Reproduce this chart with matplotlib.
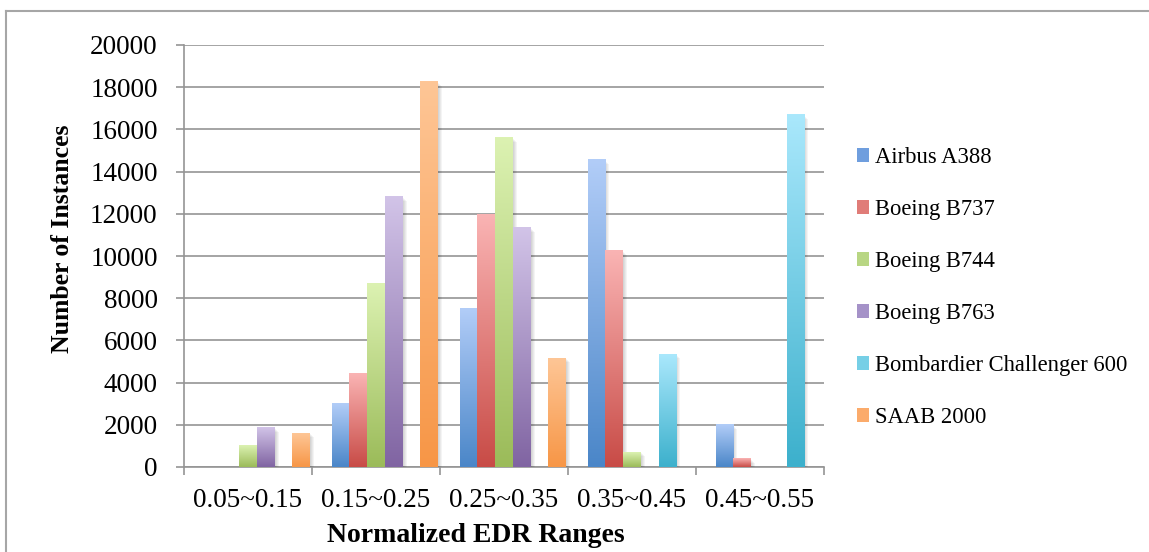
import numpy as np
import matplotlib
matplotlib.use("Agg")
import matplotlib.pyplot as plt
from matplotlib.colors import LinearSegmentedColormap
from matplotlib.patches import Patch, Rectangle
from matplotlib.lines import Line2D

# datos
edr_ranges = ["0.05~0.15", "0.15~0.25", "0.25~0.35", "0.35~0.45", "0.45~0.55"]
aircraft = ["Airbus A388", "Boeing B737", "Boeing B744", "Boeing B763",
            "Bombardier Challenger 600", "SAAB 2000"]
airbus_a388 = [0, 3000, 7500, 14550, 2000]
boeing_b737 = [0, 4450, 11950, 10250, 400]
boeing_b744 = [1000, 8700, 15600, 700, 0]
boeing_b763 = [1850, 12800, 11350, 0, 0]
bombardier_cl600 = [0, 0, 0, 5350, 16700]
saab_2000 = [1600, 18250, 5150, 0, 0]
y_ticks = list(range(0, 20001, 2000))

series = [airbus_a388, boeing_b737, boeing_b744, boeing_b763, bombardier_cl600, saab_2000]
# (color arriba, color abajo) de cada degradado
colors = [("#b2cdf8", "#4a86c8"), ("#fab4b4", "#c84b46"), ("#dcf2b2", "#9bbb59"),
          ("#d2c4e8", "#8064a2"), ("#aae8fc", "#3cb0cc"), ("#fec696", "#f79646")]
legend_colors = ["#6f9ede", "#e07c78", "#b8d683", "#a592c8", "#76cfe6", "#fbab6b"]

plt.rcParams['font.family'] = ['Liberation Serif', 'DejaVu Serif']

W, H = 1149, 552
fig = plt.figure(figsize=(W / 100, H / 100), dpi=100)
ax = fig.add_axes([184 / W, 1 - 467 / H, 640 / W, 422 / H])
ax.set_xlim(-0.5, 4.5)
ax.set_ylim(0, 20000)

px_x = 5 / 640
px_y = 20000 / 422
bar_w = 0.1385
x = np.arange(len(edr_ranges))
grad = np.linspace(0, 1, 256).reshape(-1, 1)

for i, (vals, (top, bottom)) in enumerate(zip(series, colors)):
    cmap = LinearSegmentedColormap.from_list(f"g{i}", [bottom, top])
    for xi, v in zip(x, vals):
        if v <= 0:
            continue
        x0 = xi + (i - 2.5) * bar_w
        x1 = x0 + bar_w
        # sombra suave a la derecha
        for k in range(1, 5):
            ax.add_patch(Rectangle((x0 + k * px_x, 0), bar_w, max(v - k * px_y, 0),
                                   color="black", alpha=0.045, lw=0, zorder=2))
        ax.imshow(grad, extent=[x0, x1, 0, v], origin="lower", cmap=cmap,
                  aspect="auto", interpolation="bilinear", zorder=3)

ax.set_xlim(-0.5, 4.5)
ax.set_ylim(0, 20000)

for s in ["top", "right"]:
    ax.spines[s].set_visible(False)
for s in ["left", "bottom"]:
    ax.spines[s].set_color("#959595")
    ax.spines[s].set_linewidth(1.2)
    ax.spines[s].set_zorder(1)

ax.set_yticks(y_ticks)
ax.yaxis.grid(True, color="#959595", linewidth=1.2, zorder=1)
ax.set_axisbelow(True)
ax.tick_params(axis="y", length=6, width=1.2, color="#959595", pad=13, labelsize=19.5)

ax.set_xticks(x)
ax.set_xticklabels(edr_ranges)
ax.set_xticks(np.arange(-0.5, 5, 1), minor=True)
ax.tick_params(axis="x", which="major", length=0, pad=15, labelsize=19.5)
ax.tick_params(axis="x", which="minor", length=5.5, width=1.2, color="#959595")

ax.set_xlabel("Normalized EDR Ranges", fontsize=20, fontweight="bold", va="center")
ax.xaxis.set_label_coords((476 - 184) / 640, (467 - 535) / 422)
ax.set_ylabel("Number of Instances", fontsize=18.5, fontweight="bold", va="center")
ax.yaxis.set_label_coords((62 - 184) / 640, (467 - 239) / 422)

handles = [Patch(facecolor=c, edgecolor="none") for c in legend_colors]
fig.legend(handles, aircraft, loc="upper left", bbox_to_anchor=(857 / W, 1 - 147 / H),
           frameon=False, fontsize=16.3, handlelength=0.55, handleheight=0.55,
           handletextpad=0.25, labelspacing=1.37, borderpad=0, borderaxespad=0)

# marco exterior
fig.add_artist(Line2D([6 / W, 6 / W], [0, 1 - 11 / H], color="#a6a6a6", lw=1.5))
fig.add_artist(Line2D([6 / W, 1], [1 - 11 / H, 1 - 11 / H], color="#a6a6a6", lw=1.5))

fig.savefig("out.png", dpi=100)
